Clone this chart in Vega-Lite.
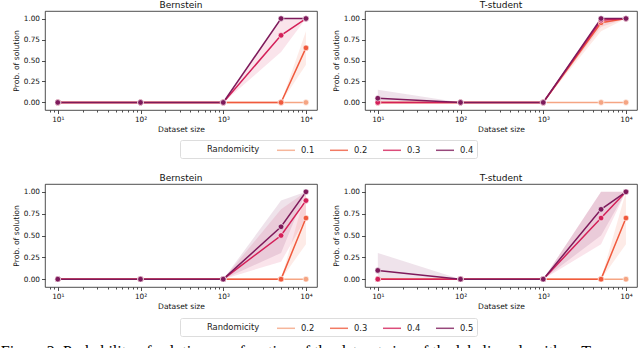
{
  "$schema": "https://vega.github.io/schema/vega-lite/v6.json",
  "autosize": {"type": "pad"},
  "padding": {"left": 0, "top": 0, "right": 0, "bottom": 0},
  "background": "white",
  "title": {"text": "Figure 2: Probability of solution as a function of the dataset size of the labeling algorithm. T", "orient": "bottom", "anchor": "start", "frame": "bounds", "dx": -11, "offset": 7, "font": "Liberation Serif", "fontSize": 16, "fontWeight": "normal", "color": "#000000", "baseline": "top"},
  "datasets": {
    "d": [
      {"row":"top","dist":"Bernstein","R":"0.1","n":10,"p":0,"lo":0,"hi":0},
      {"row":"top","dist":"Bernstein","R":"0.1","n":100,"p":0,"lo":0,"hi":0},
      {"row":"top","dist":"Bernstein","R":"0.1","n":1000,"p":0,"lo":0,"hi":0},
      {"row":"top","dist":"Bernstein","R":"0.1","n":5000,"p":0,"lo":0,"hi":0},
      {"row":"top","dist":"Bernstein","R":"0.1","n":10000,"p":0,"lo":0,"hi":0},
      {"row":"top","dist":"Bernstein","R":"0.2","n":10,"p":0,"lo":0,"hi":0},
      {"row":"top","dist":"Bernstein","R":"0.2","n":100,"p":0,"lo":0,"hi":0},
      {"row":"top","dist":"Bernstein","R":"0.2","n":1000,"p":0,"lo":0,"hi":0},
      {"row":"top","dist":"Bernstein","R":"0.2","n":5000,"p":0,"lo":0,"hi":0},
      {"row":"top","dist":"Bernstein","R":"0.2","n":10000,"p":0.65,"lo":0.45,"hi":0.85},
      {"row":"top","dist":"Bernstein","R":"0.3","n":10,"p":0,"lo":0,"hi":0},
      {"row":"top","dist":"Bernstein","R":"0.3","n":100,"p":0,"lo":0,"hi":0},
      {"row":"top","dist":"Bernstein","R":"0.3","n":1000,"p":0,"lo":0,"hi":0},
      {"row":"top","dist":"Bernstein","R":"0.3","n":5000,"p":0.8,"lo":0.6,"hi":1.0},
      {"row":"top","dist":"Bernstein","R":"0.3","n":10000,"p":1.0,"lo":1.0,"hi":1.0},
      {"row":"top","dist":"Bernstein","R":"0.4","n":10,"p":0,"lo":0,"hi":0},
      {"row":"top","dist":"Bernstein","R":"0.4","n":100,"p":0,"lo":0,"hi":0},
      {"row":"top","dist":"Bernstein","R":"0.4","n":1000,"p":0,"lo":0,"hi":0},
      {"row":"top","dist":"Bernstein","R":"0.4","n":5000,"p":1.0,"lo":1.0,"hi":1.0},
      {"row":"top","dist":"Bernstein","R":"0.4","n":10000,"p":1.0,"lo":1.0,"hi":1.0},

      {"row":"top","dist":"T-student","R":"0.1","n":10,"p":0,"lo":0,"hi":0},
      {"row":"top","dist":"T-student","R":"0.1","n":100,"p":0,"lo":0,"hi":0},
      {"row":"top","dist":"T-student","R":"0.1","n":1000,"p":0,"lo":0,"hi":0},
      {"row":"top","dist":"T-student","R":"0.1","n":5000,"p":0,"lo":0,"hi":0},
      {"row":"top","dist":"T-student","R":"0.1","n":10000,"p":0,"lo":0,"hi":0},
      {"row":"top","dist":"T-student","R":"0.2","n":10,"p":0,"lo":0,"hi":0},
      {"row":"top","dist":"T-student","R":"0.2","n":100,"p":0,"lo":0,"hi":0},
      {"row":"top","dist":"T-student","R":"0.2","n":1000,"p":0,"lo":0,"hi":0},
      {"row":"top","dist":"T-student","R":"0.2","n":5000,"p":0.95,"lo":0.85,"hi":1.0},
      {"row":"top","dist":"T-student","R":"0.2","n":10000,"p":1.0,"lo":1.0,"hi":1.0},
      {"row":"top","dist":"T-student","R":"0.3","n":10,"p":0,"lo":0,"hi":0},
      {"row":"top","dist":"T-student","R":"0.3","n":100,"p":0,"lo":0,"hi":0},
      {"row":"top","dist":"T-student","R":"0.3","n":1000,"p":0,"lo":0,"hi":0},
      {"row":"top","dist":"T-student","R":"0.3","n":5000,"p":0.98,"lo":0.9,"hi":1.0},
      {"row":"top","dist":"T-student","R":"0.3","n":10000,"p":1.0,"lo":1.0,"hi":1.0},
      {"row":"top","dist":"T-student","R":"0.4","n":10,"p":0.05,"lo":0,"hi":0.15},
      {"row":"top","dist":"T-student","R":"0.4","n":100,"p":0,"lo":0,"hi":0},
      {"row":"top","dist":"T-student","R":"0.4","n":1000,"p":0,"lo":0,"hi":0},
      {"row":"top","dist":"T-student","R":"0.4","n":5000,"p":1.0,"lo":1.0,"hi":1.0},
      {"row":"top","dist":"T-student","R":"0.4","n":10000,"p":1.0,"lo":1.0,"hi":1.0},

      {"row":"bottom","dist":"Bernstein","R":"0.2","n":10,"p":0,"lo":0,"hi":0},
      {"row":"bottom","dist":"Bernstein","R":"0.2","n":100,"p":0,"lo":0,"hi":0},
      {"row":"bottom","dist":"Bernstein","R":"0.2","n":1000,"p":0,"lo":0,"hi":0},
      {"row":"bottom","dist":"Bernstein","R":"0.2","n":5000,"p":0,"lo":0,"hi":0},
      {"row":"bottom","dist":"Bernstein","R":"0.2","n":10000,"p":0,"lo":0,"hi":0},
      {"row":"bottom","dist":"Bernstein","R":"0.3","n":10,"p":0,"lo":0,"hi":0},
      {"row":"bottom","dist":"Bernstein","R":"0.3","n":100,"p":0,"lo":0,"hi":0},
      {"row":"bottom","dist":"Bernstein","R":"0.3","n":1000,"p":0,"lo":0,"hi":0},
      {"row":"bottom","dist":"Bernstein","R":"0.3","n":5000,"p":0,"lo":0,"hi":0},
      {"row":"bottom","dist":"Bernstein","R":"0.3","n":10000,"p":0.7,"lo":0.4,"hi":1.0},
      {"row":"bottom","dist":"Bernstein","R":"0.4","n":10,"p":0,"lo":0,"hi":0},
      {"row":"bottom","dist":"Bernstein","R":"0.4","n":100,"p":0,"lo":0,"hi":0},
      {"row":"bottom","dist":"Bernstein","R":"0.4","n":1000,"p":0,"lo":0,"hi":0},
      {"row":"bottom","dist":"Bernstein","R":"0.4","n":5000,"p":0.5,"lo":0.2,"hi":0.8},
      {"row":"bottom","dist":"Bernstein","R":"0.4","n":10000,"p":0.9,"lo":0.7,"hi":1.0},
      {"row":"bottom","dist":"Bernstein","R":"0.5","n":10,"p":0,"lo":0,"hi":0},
      {"row":"bottom","dist":"Bernstein","R":"0.5","n":100,"p":0,"lo":0,"hi":0},
      {"row":"bottom","dist":"Bernstein","R":"0.5","n":1000,"p":0,"lo":0,"hi":0},
      {"row":"bottom","dist":"Bernstein","R":"0.5","n":5000,"p":0.6,"lo":0.3,"hi":0.9},
      {"row":"bottom","dist":"Bernstein","R":"0.5","n":10000,"p":1.0,"lo":1.0,"hi":1.0},

      {"row":"bottom","dist":"T-student","R":"0.2","n":10,"p":0,"lo":0,"hi":0},
      {"row":"bottom","dist":"T-student","R":"0.2","n":100,"p":0,"lo":0,"hi":0},
      {"row":"bottom","dist":"T-student","R":"0.2","n":1000,"p":0,"lo":0,"hi":0},
      {"row":"bottom","dist":"T-student","R":"0.2","n":5000,"p":0,"lo":0,"hi":0},
      {"row":"bottom","dist":"T-student","R":"0.2","n":10000,"p":0,"lo":0,"hi":0},
      {"row":"bottom","dist":"T-student","R":"0.3","n":10,"p":0,"lo":0,"hi":0},
      {"row":"bottom","dist":"T-student","R":"0.3","n":100,"p":0,"lo":0,"hi":0},
      {"row":"bottom","dist":"T-student","R":"0.3","n":1000,"p":0,"lo":0,"hi":0},
      {"row":"bottom","dist":"T-student","R":"0.3","n":5000,"p":0,"lo":0,"hi":0},
      {"row":"bottom","dist":"T-student","R":"0.3","n":10000,"p":0.7,"lo":0.4,"hi":1.0},
      {"row":"bottom","dist":"T-student","R":"0.4","n":10,"p":0,"lo":0,"hi":0},
      {"row":"bottom","dist":"T-student","R":"0.4","n":100,"p":0,"lo":0,"hi":0},
      {"row":"bottom","dist":"T-student","R":"0.4","n":1000,"p":0,"lo":0,"hi":0},
      {"row":"bottom","dist":"T-student","R":"0.4","n":5000,"p":0.7,"lo":0.4,"hi":1.0},
      {"row":"bottom","dist":"T-student","R":"0.4","n":10000,"p":1.0,"lo":1.0,"hi":1.0},
      {"row":"bottom","dist":"T-student","R":"0.5","n":10,"p":0.1,"lo":0,"hi":0.3},
      {"row":"bottom","dist":"T-student","R":"0.5","n":100,"p":0,"lo":0,"hi":0},
      {"row":"bottom","dist":"T-student","R":"0.5","n":1000,"p":0,"lo":0,"hi":0},
      {"row":"bottom","dist":"T-student","R":"0.5","n":5000,"p":0.8,"lo":0.5,"hi":1.0},
      {"row":"bottom","dist":"T-student","R":"0.5","n":10000,"p":1.0,"lo":1.0,"hi":1.0}
    ]
  },
  "data": {"name": "d"},
  "vconcat": [
    {
      "hconcat": [
        {
          "title": "Bernstein", "width": 272, "height": 99,
          "transform": [{"filter": "datum.row == 'top' && datum.dist == 'Bernstein'"}],
          "layer": [
            {"mark": {"type": "area", "opacity": 0.12},
             "encoding": {
               "x": {"field": "n", "type": "quantitative", "scale": {"type": "log", "domain": [7, 13600], "nice": false},
                     "axis": {"orient": "bottom", "values": [8,9,20,30,40,50,60,70,80,90,200,300,400,500,600,700,800,900,2000,3000,4000,5000,6000,7000,8000,9000], "labels": false, "title": null, "tickSize": 2, "domain": false, "grid": false}},
               "y": {"field": "lo", "type": "quantitative", "scale": {"domain": [-0.09, 1.09], "nice": false}, "axis": {"values": [0,0.25,0.5,0.75,1], "format": ".2f", "title": "Prob. of solution"}},
               "y2": {"field": "hi"},
               "fill": {"field": "R", "type": "nominal", "scale": {"domain": ["0.1","0.2","0.3","0.4"], "range": ["#f5a583","#f05a3d","#d42059","#7e1a5b"]}, "legend": {"title": "\u200b\u00a0\u00a0\u00a0\u00a0\u00a0\u00a0\u00a0\u00a0\u00a0Randomicity", "legendX": 135, "legendY": 129}}}},
            {"mark": {"type": "line", "strokeWidth": 1.5},
             "encoding": {
               "x": {"field": "n", "type": "quantitative", "axis": {"orient": "bottom", "values": [10,100,1000,10000], "labelExpr": "datum.value == 10 ? '10¹' : datum.value == 100 ? '10²' : datum.value == 1000 ? '10³' : '10⁴'", "title": "Dataset size"}},
               "y": {"field": "p", "type": "quantitative", "axis": {"values": [0,0.25,0.5,0.75,1], "format": ".2f", "title": "Prob. of solution"}},
               "color": {"field": "R", "type": "nominal", "scale": {"domain": ["0.1","0.2","0.3","0.4"], "range": ["#f5a583","#f05a3d","#d42059","#7e1a5b"]},
                         "legend": {"title": "\u200b\u00a0\u00a0\u00a0\u00a0\u00a0\u00a0\u00a0\u00a0\u00a0Randomicity", "legendX": 135, "legendY": 129}}}},
            {"mark": {"type": "point", "filled": true, "size": 32, "stroke": "white", "strokeWidth": 0.6, "opacity": 1},
             "encoding": {
               "x": {"field": "n", "type": "quantitative", "axis": null},
               "y": {"field": "p", "type": "quantitative", "axis": {"values": [0,0.25,0.5,0.75,1], "format": ".2f", "title": "Prob. of solution"}},
               "fill": {"field": "R", "type": "nominal", "scale": {"domain": ["0.1","0.2","0.3","0.4"], "range": ["#f5a583","#f05a3d","#d42059","#7e1a5b"]}, "legend": {"title": "\u200b\u00a0\u00a0\u00a0\u00a0\u00a0\u00a0\u00a0\u00a0\u00a0Randomicity", "legendX": 135, "legendY": 129}}}}
          ],
          "resolve": {"axis": {"x": "independent"}}
        },
        {
          "title": "T-student", "width": 272, "height": 99,
          "transform": [{"filter": "datum.row == 'top' && datum.dist == 'T-student'"}],
          "layer": [
            {"mark": {"type": "area", "opacity": 0.12},
             "encoding": {
               "x": {"field": "n", "type": "quantitative", "scale": {"type": "log", "domain": [7, 13600], "nice": false},
                     "axis": {"orient": "bottom", "values": [8,9,20,30,40,50,60,70,80,90,200,300,400,500,600,700,800,900,2000,3000,4000,5000,6000,7000,8000,9000], "labels": false, "title": null, "tickSize": 2, "domain": false, "grid": false}},
               "y": {"field": "lo", "type": "quantitative", "scale": {"domain": [-0.09, 1.09], "nice": false}, "axis": {"values": [0,0.25,0.5,0.75,1], "format": ".2f", "title": "Prob. of solution"}},
               "y2": {"field": "hi"},
               "fill": {"field": "R", "type": "nominal", "scale": {"domain": ["0.1","0.2","0.3","0.4"], "range": ["#f5a583","#f05a3d","#d42059","#7e1a5b"]}, "legend": {"title": "\u200b\u00a0\u00a0\u00a0\u00a0\u00a0\u00a0\u00a0\u00a0\u00a0Randomicity", "legendX": 135, "legendY": 129}}}},
            {"mark": {"type": "line", "strokeWidth": 1.5},
             "encoding": {
               "x": {"field": "n", "type": "quantitative", "axis": {"orient": "bottom", "values": [10,100,1000,10000], "labelExpr": "datum.value == 10 ? '10¹' : datum.value == 100 ? '10²' : datum.value == 1000 ? '10³' : '10⁴'", "title": "Dataset size"}},
               "y": {"field": "p", "type": "quantitative", "axis": {"values": [0,0.25,0.5,0.75,1], "format": ".2f", "title": "Prob. of solution"}},
               "color": {"field": "R", "type": "nominal", "scale": {"domain": ["0.1","0.2","0.3","0.4"], "range": ["#f5a583","#f05a3d","#d42059","#7e1a5b"]},
                         "legend": {"title": "\u200b\u00a0\u00a0\u00a0\u00a0\u00a0\u00a0\u00a0\u00a0\u00a0Randomicity", "legendX": 135, "legendY": 129}}}},
            {"mark": {"type": "point", "filled": true, "size": 32, "stroke": "white", "strokeWidth": 0.6, "opacity": 1},
             "encoding": {
               "x": {"field": "n", "type": "quantitative", "axis": null},
               "y": {"field": "p", "type": "quantitative", "axis": {"values": [0,0.25,0.5,0.75,1], "format": ".2f", "title": "Prob. of solution"}},
               "fill": {"field": "R", "type": "nominal", "scale": {"domain": ["0.1","0.2","0.3","0.4"], "range": ["#f5a583","#f05a3d","#d42059","#7e1a5b"]}, "legend": {"title": "\u200b\u00a0\u00a0\u00a0\u00a0\u00a0\u00a0\u00a0\u00a0\u00a0Randomicity", "legendX": 135, "legendY": 129}}}}
          ],
          "resolve": {"axis": {"x": "independent"}}
        }
      ],
      "spacing": 48,
      "bounds": "flush"
    },
    {
      "hconcat": [
        {
          "title": "Bernstein", "width": 272, "height": 103,
          "transform": [{"filter": "datum.row == 'bottom' && datum.dist == 'Bernstein'"}],
          "layer": [
            {"mark": {"type": "area", "opacity": 0.12},
             "encoding": {
               "x": {"field": "n", "type": "quantitative", "scale": {"type": "log", "domain": [7, 13600], "nice": false},
                     "axis": {"orient": "bottom", "values": [8,9,20,30,40,50,60,70,80,90,200,300,400,500,600,700,800,900,2000,3000,4000,5000,6000,7000,8000,9000], "labels": false, "title": null, "tickSize": 2, "domain": false, "grid": false}},
               "y": {"field": "lo", "type": "quantitative", "scale": {"domain": [-0.09, 1.09], "nice": false}, "axis": {"values": [0,0.25,0.5,0.75,1], "format": ".2f", "title": "Prob. of solution"}},
               "y2": {"field": "hi"},
               "fill": {"field": "R", "type": "nominal", "scale": {"domain": ["0.2","0.3","0.4","0.5"], "range": ["#f5a583","#f05a3d","#d42059","#7e1a5b"]}, "legend": {"title": "\u200b\u00a0\u00a0\u00a0\u00a0\u00a0\u00a0\u00a0\u00a0\u00a0Randomicity", "legendX": 135, "legendY": 134}}}},
            {"mark": {"type": "line", "strokeWidth": 1.5},
             "encoding": {
               "x": {"field": "n", "type": "quantitative", "axis": {"orient": "bottom", "values": [10,100,1000,10000], "labelExpr": "datum.value == 10 ? '10¹' : datum.value == 100 ? '10²' : datum.value == 1000 ? '10³' : '10⁴'", "title": "Dataset size"}},
               "y": {"field": "p", "type": "quantitative", "axis": {"values": [0,0.25,0.5,0.75,1], "format": ".2f", "title": "Prob. of solution"}},
               "color": {"field": "R", "type": "nominal", "scale": {"domain": ["0.2","0.3","0.4","0.5"], "range": ["#f5a583","#f05a3d","#d42059","#7e1a5b"]},
                         "legend": {"title": "\u200b\u00a0\u00a0\u00a0\u00a0\u00a0\u00a0\u00a0\u00a0\u00a0Randomicity", "legendX": 135, "legendY": 134}}}},
            {"mark": {"type": "point", "filled": true, "size": 32, "stroke": "white", "strokeWidth": 0.6, "opacity": 1},
             "encoding": {
               "x": {"field": "n", "type": "quantitative", "axis": null},
               "y": {"field": "p", "type": "quantitative", "axis": {"values": [0,0.25,0.5,0.75,1], "format": ".2f", "title": "Prob. of solution"}},
               "fill": {"field": "R", "type": "nominal", "scale": {"domain": ["0.2","0.3","0.4","0.5"], "range": ["#f5a583","#f05a3d","#d42059","#7e1a5b"]}, "legend": {"title": "\u200b\u00a0\u00a0\u00a0\u00a0\u00a0\u00a0\u00a0\u00a0\u00a0Randomicity", "legendX": 135, "legendY": 134}}}}
          ],
          "resolve": {"axis": {"x": "independent"}}
        },
        {
          "title": "T-student", "width": 272, "height": 103,
          "transform": [{"filter": "datum.row == 'bottom' && datum.dist == 'T-student'"}],
          "layer": [
            {"mark": {"type": "area", "opacity": 0.12},
             "encoding": {
               "x": {"field": "n", "type": "quantitative", "scale": {"type": "log", "domain": [7, 13600], "nice": false},
                     "axis": {"orient": "bottom", "values": [8,9,20,30,40,50,60,70,80,90,200,300,400,500,600,700,800,900,2000,3000,4000,5000,6000,7000,8000,9000], "labels": false, "title": null, "tickSize": 2, "domain": false, "grid": false}},
               "y": {"field": "lo", "type": "quantitative", "scale": {"domain": [-0.09, 1.09], "nice": false}, "axis": {"values": [0,0.25,0.5,0.75,1], "format": ".2f", "title": "Prob. of solution"}},
               "y2": {"field": "hi"},
               "fill": {"field": "R", "type": "nominal", "scale": {"domain": ["0.2","0.3","0.4","0.5"], "range": ["#f5a583","#f05a3d","#d42059","#7e1a5b"]}, "legend": {"title": "\u200b\u00a0\u00a0\u00a0\u00a0\u00a0\u00a0\u00a0\u00a0\u00a0Randomicity", "legendX": 135, "legendY": 134}}}},
            {"mark": {"type": "line", "strokeWidth": 1.5},
             "encoding": {
               "x": {"field": "n", "type": "quantitative", "axis": {"orient": "bottom", "values": [10,100,1000,10000], "labelExpr": "datum.value == 10 ? '10¹' : datum.value == 100 ? '10²' : datum.value == 1000 ? '10³' : '10⁴'", "title": "Dataset size"}},
               "y": {"field": "p", "type": "quantitative", "axis": {"values": [0,0.25,0.5,0.75,1], "format": ".2f", "title": "Prob. of solution"}},
               "color": {"field": "R", "type": "nominal", "scale": {"domain": ["0.2","0.3","0.4","0.5"], "range": ["#f5a583","#f05a3d","#d42059","#7e1a5b"]},
                         "legend": {"title": "\u200b\u00a0\u00a0\u00a0\u00a0\u00a0\u00a0\u00a0\u00a0\u00a0Randomicity", "legendX": 135, "legendY": 134}}}},
            {"mark": {"type": "point", "filled": true, "size": 32, "stroke": "white", "strokeWidth": 0.6, "opacity": 1},
             "encoding": {
               "x": {"field": "n", "type": "quantitative", "axis": null},
               "y": {"field": "p", "type": "quantitative", "axis": {"values": [0,0.25,0.5,0.75,1], "format": ".2f", "title": "Prob. of solution"}},
               "fill": {"field": "R", "type": "nominal", "scale": {"domain": ["0.2","0.3","0.4","0.5"], "range": ["#f5a583","#f05a3d","#d42059","#7e1a5b"]}, "legend": {"title": "\u200b\u00a0\u00a0\u00a0\u00a0\u00a0\u00a0\u00a0\u00a0\u00a0Randomicity", "legendX": 135, "legendY": 134}}}}
          ],
          "resolve": {"axis": {"x": "independent"}}
        }
      ],
      "spacing": 48,
      "bounds": "flush"
    }
  ],
  "spacing": 14,
  "resolve": {"scale": {"color": "independent", "fill": "independent"}},
  "config": {
    "font": "DejaVu Sans",
    "view": {"stroke": "#222222", "strokeWidth": 0.8},
    "axis": {"grid": false, "domain": false, "tickColor": "#222222", "tickSize": 3.5, "tickWidth": 0.8, "labelFontSize": 7.3, "labelColor": "#111111", "labelPadding": 2, "titleFontSize": 7.6, "titleFontWeight": "normal", "titleColor": "#111111", "titlePadding": 3},
    "title": {"fontSize": 9, "fontWeight": "normal", "offset": 1.5, "color": "#111111"},
    "legend": {"orient": "none", "direction": "horizontal", "columns": 4, "titleOrient": "left", "titleAnchor": "middle", "titleBaseline": "middle", "titleFontWeight": "normal", "titleFontSize": 8.4, "titleColor": "#222222", "labelFontSize": 8.4, "labelColor": "#222222", "symbolType": "M-1.5,0L1.5,0", "symbolSize": 144, "symbolStrokeWidth": 1.5, "symbolOpacity": 0.8, "columnPadding": 12, "titlePadding": 19, "labelOffset": 8, "padding": 3, "strokeColor": "#dddddd", "fillColor": "white", "cornerRadius": 2}
  }
}
